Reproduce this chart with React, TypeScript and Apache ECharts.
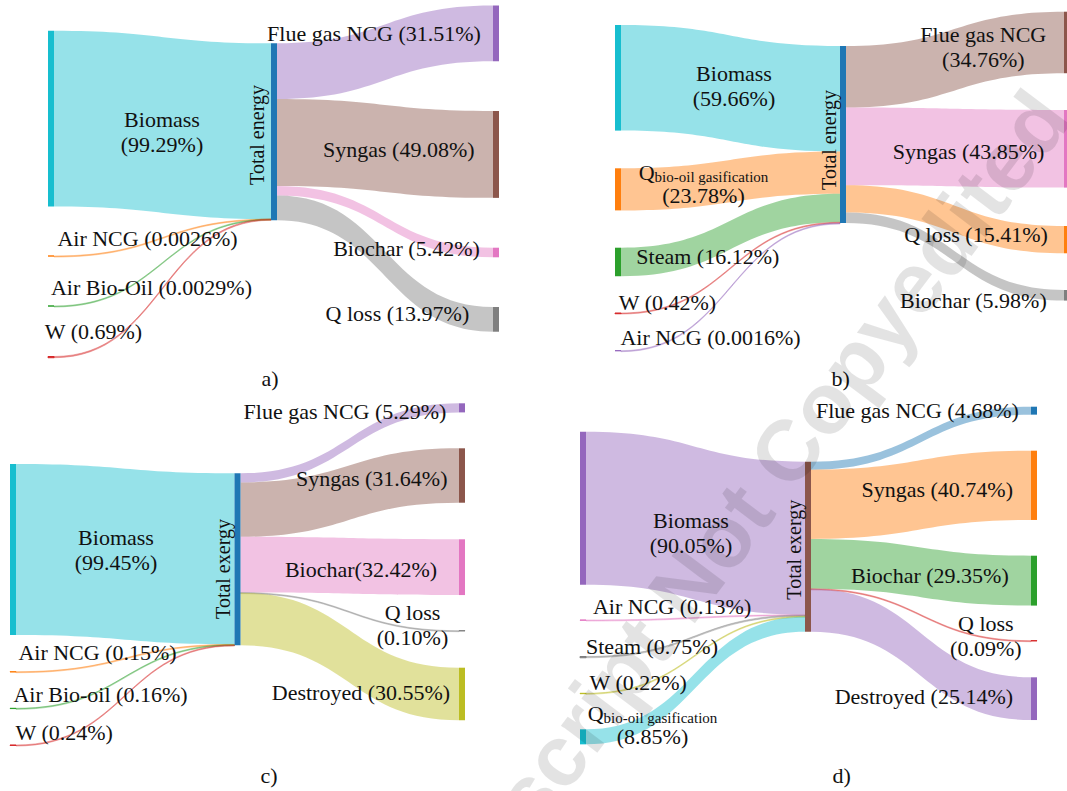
import React, { useEffect, useRef } from "react";
import * as echarts from "echarts";

// ---------------- DATA ----------------
// a) energy, bio-oil combustion case
const aSourceNames = ["Biomass", "Air NCG", "Air Bio-Oil", "W"];
const aSourceValues = [99.29, 0.0026, 0.0029, 0.69];
const aSinkNames = ["Flue gas NCG", "Syngas", "Biochar", "Q loss"];
const aSinkValues = [31.51, 49.08, 5.42, 13.97];

// b) energy, bio-oil gasification case
const bSourceNames = ["Biomass", "Q_bio-oil gasification", "Steam", "W", "Air NCG"];
const bSourceValues = [59.66, 23.78, 16.12, 0.42, 0.0016];
const bSinkNames = ["Flue gas NCG", "Syngas", "Q loss", "Biochar"];
const bSinkValues = [34.76, 43.85, 15.41, 5.98];

// c) exergy, bio-oil combustion case
const cSourceNames = ["Biomass", "Air NCG", "Air Bio-oil", "W"];
const cSourceValues = [99.45, 0.15, 0.16, 0.24];
const cSinkNames = ["Flue gas NCG", "Syngas", "Biochar", "Q loss", "Destroyed"];
const cSinkValues = [5.29, 31.64, 32.42, 0.1, 30.55];

// d) exergy, bio-oil gasification case
const dSourceNames = ["Biomass", "Air NCG", "Steam", "W", "Q_bio-oil gasification"];
const dSourceValues = [90.05, 0.13, 0.75, 0.22, 8.85];
const dSinkNames = ["Flue gas NCG", "Syngas", "Biochar", "Q loss", "Destroyed"];
const dSinkValues = [4.68, 40.74, 29.35, 0.09, 25.14];

const totalNames = ["Total energy", "Total energy", "Total exergy", "Total exergy"];
const panelTags = ["a)", "b)", "c)", "d)"];
const watermarkText = "Manuscript Not Copyedited";

// ---------------- STYLE / LAYOUT ----------------
const COL = {
  blue: "#1f77b4",
  orange: "#ff7f0e",
  green: "#2ca02c",
  red: "#d62728",
  purple: "#9467bd",
  brown: "#8c564b",
  pink: "#e377c2",
  gray: "#7f7f7f",
  olive: "#bcbd22",
  cyan: "#17becf",
};
const FONT = "Liberation Serif";
const TEXT_COLOR = "#111";
const FS = 22;
const NW = 6;
const LINK_OPACITY = 0.45;

const panels = [
  { src: aSourceNames, srcV: aSourceValues, sink: aSinkNames, sinkV: aSinkValues },
  { src: bSourceNames, srcV: bSourceValues, sink: bSinkNames, sinkV: bSinkValues },
  { src: cSourceNames, srcV: cSourceValues, sink: cSinkNames, sinkV: cSinkValues },
  { src: dSourceNames, srcV: dSourceValues, sink: dSinkNames, sinkV: dSinkValues },
];

type Lab = [number, number, string];
interface Layout {
  ky: number;
  x: number[];
  srcY: number[];
  totY: number;
  sinkY: number[];
  srcColors: string[];
  totColor: string;
  sinkColors: string[];
  srcLabels: Lab[];
  totLabel: [number, number];
  sinkLabels: Lab[];
  tag: [number, number];
}

const layouts: Layout[] = [
  {
    ky: 1.77,
    x: [48, 271, 493],
    srcY: [30.7, 256, 306, 356.5],
    totY: 43.3,
    sinkY: [5.5, 111, 247.7, 307],
    srcColors: [COL.cyan, COL.orange, COL.green, COL.red],
    totColor: COL.blue,
    sinkColors: [COL.purple, COL.brown, COL.pink, COL.gray],
    srcLabels: [
      [162, 132, "\n"],
      [148, 239.3, " "],
      [152, 288.3, " "],
      [94, 331.7, " "],
    ],
    totLabel: [257, 135],
    sinkLabels: [
      [374, 33.3, " "],
      [398.8, 149, " "],
      [406.5, 248.3, " "],
      [397.4, 313.3, " "],
    ],
    tag: [270, 378],
  },
  {
    ky: 1.77,
    x: [615, 840, 1064],
    srcY: [25, 168.3, 247.7, 313, 350.7],
    totY: 46,
    sinkY: [11.7, 110, 226, 290],
    srcColors: [COL.cyan, COL.orange, COL.green, COL.red, COL.purple],
    totColor: COL.blue,
    sinkColors: [COL.brown, COL.pink, COL.orange, COL.gray],
    srcLabels: [
      [734, 86, "\n"],
      [703.5, 183, ""],
      [707.8, 256, " "],
      [668, 302.7, " "],
      [711, 337.7, " "],
    ],
    totLabel: [828.6, 140],
    sinkLabels: [
      [983.3, 46.7, "\n"],
      [968.6, 151.7, " "],
      [976, 234.3, " "],
      [973.4, 300, " "],
    ],
    tag: [840.6, 378],
  },
  {
    ky: 1.72,
    x: [10, 234.5, 459],
    srcY: [464, 671.7, 708.3, 745],
    totY: 473.3,
    sinkY: [403.3, 448.3, 539.3, 630.7, 667.7],
    srcColors: [COL.cyan, COL.orange, COL.green, COL.red],
    totColor: COL.blue,
    sinkColors: [COL.purple, COL.brown, COL.pink, COL.gray, COL.olive],
    srcLabels: [
      [116, 549.5, "\n"],
      [98, 653.3, " "],
      [101, 695, " "],
      [64.7, 733.3, " "],
    ],
    totLabel: [223.4, 569],
    sinkLabels: [
      [345, 411.7, " "],
      [371.7, 478.3, " "],
      [361, 569, ""],
      [413, 625.8, "\n"],
      [361, 692.7, " "],
    ],
    tag: [269, 775],
  },
  {
    ky: 1.7,
    x: [580, 805, 1031],
    srcY: [431.7, 620, 656.5, 693.3, 729.3],
    totY: 461.7,
    sinkY: [406.7, 450.7, 555.7, 640.7, 677.3],
    srcColors: [COL.purple, COL.pink, COL.gray, COL.olive, COL.cyan],
    totColor: COL.brown,
    sinkColors: [COL.blue, COL.orange, COL.green, COL.red, COL.purple],
    srcLabels: [
      [691, 532.8, "\n"],
      [672.6, 607.3, " "],
      [652.5, 646.7, " "],
      [638.7, 682.7, " "],
      [652.5, 724.5, ""],
    ],
    totLabel: [793.7, 549.7],
    sinkLabels: [
      [917.4, 410.7, " "],
      [937.2, 489.3, " "],
      [929.9, 575, " "],
      [986.3, 636.7, "\n"],
      [923.9, 696, " "],
    ],
    tag: [841.7, 775],
  },
];

function fmtVal(v: number) {
  return v < 0.01 ? v.toFixed(4) : v.toFixed(2);
}

function labelText(name: string, v: number, sep: string) {
  const val = "(" + fmtVal(v) + "%)";
  if (name.indexOf("_") >= 0) {
    const parts = name.split("_");
    return "{q|" + parts[0] + "}{s|" + parts[1] + "}\n{p|" + val + "}";
  }
  return name + sep + val;
}

const RICH = {
  q: { fontFamily: FONT, color: TEXT_COLOR, fontSize: FS, lineHeight: 24, align: "center" },
  s: {
    fontFamily: FONT,
    color: TEXT_COLOR,
    fontSize: 15,
    lineHeight: 15,
    verticalAlign: "bottom",
    align: "center",
  },
  p: { fontFamily: FONT, color: TEXT_COLOR, fontSize: FS, lineHeight: 22, align: "center" },
};

function buildSeries(idx: number) {
  const P = panels[idx];
  const L = layouts[idx];
  const tot = totalNames[idx];
  const sumIn = P.srcV.reduce((a, b) => a + b, 0);
  const sumOut = P.sinkV.reduce((a, b) => a + b, 0);
  const height = L.ky * Math.max(sumIn, sumOut);
  const left = L.x[0];
  const width = L.x[2] + NW - left;

  const mkNode = (
    name: string,
    value: number,
    color: string,
    x: number,
    y: number,
    cx: number,
    cy: number,
    text: string,
    rotate: number
  ) => ({
    name,
    localX: (x - left) / width,
    localY: y / height,
    itemStyle: {
      color,
      borderColor: color,
      borderWidth: value < 1 ? 1 : 0,
      opacity: 1,
    },
    label: {
      show: true,
      position: [cx - x, cy - y],
      align: "center",
      verticalAlign: "middle",
      rotate,
      fontFamily: FONT,
      fontWeight: "normal",
      color: TEXT_COLOR,
      fontSize: rotate ? 20 : FS,
      lineHeight: 25,
      rich: RICH,
      formatter: () => text,
    },
  });

  const nodes: any[] = [];
  P.src.forEach((n, i) => {
    const lab = L.srcLabels[i];
    nodes.push(
      mkNode(n, P.srcV[i], L.srcColors[i], L.x[0], L.srcY[i], lab[0], lab[1], labelText(n, P.srcV[i], lab[2]), 0)
    );
  });
  nodes.push(mkNode(tot, 100, L.totColor, L.x[1], L.totY, L.totLabel[0], L.totLabel[1], tot, 90));
  P.sink.forEach((n, i) => {
    const lab = L.sinkLabels[i];
    nodes.push(
      mkNode(n, P.sinkV[i], L.sinkColors[i], L.x[2], L.sinkY[i], lab[0], lab[1], labelText(n, P.sinkV[i], lab[2]), 0)
    );
  });

  const lineStyle = (c: string, v: number) => ({
    color: c,
    opacity: LINK_OPACITY,
    curveness: 0.5,
    borderColor: c,
    borderWidth: v < 1 ? 0.8 : 0,
  });

  const links: any[] = [];
  P.src.forEach((n, i) => {
    links.push({ source: n, target: tot, value: P.srcV[i], lineStyle: lineStyle(L.srcColors[i], P.srcV[i]) });
  });
  P.sink.forEach((n, i) => {
    links.push({ source: tot, target: n, value: P.sinkV[i], lineStyle: lineStyle(L.sinkColors[i], P.sinkV[i]) });
  });

  return {
    type: "sankey",
    left,
    top: 0,
    width,
    height,
    nodeWidth: NW,
    nodeGap: 0,
    layoutIterations: 0,
    nodeAlign: "justify",
    draggable: false,
    silent: true,
    emphasis: { disabled: true },
    label: {
      fontFamily: FONT,
      color: TEXT_COLOR,
      fontSize: FS,
      lineHeight: 25,
      rich: RICH,
    },
    data: nodes,
    links,
  };
}

function buildOption() {
  const graphics: any[] = layouts.map((L, i) => ({
    type: "text",
    x: L.tag[0],
    y: L.tag[1],
    silent: true,
    style: {
      text: panelTags[i],
      fontFamily: FONT,
      fontSize: FS,
      fill: TEXT_COLOR,
      align: "center",
      verticalAlign: "middle",
    },
  }));
  graphics.push({
    type: "text",
    x: 1050,
    y: 102,
    rotation: (53 * Math.PI) / 180,
    z: 100,
    silent: true,
    style: {
      text: watermarkText,
      fontFamily: "Liberation Sans",
      fontWeight: "bold",
      fontSize: 86,
      fill: "rgba(0,0,0,0.11)",
      align: "right",
      verticalAlign: "middle",
    },
  });
  return {
    animation: false,
    backgroundColor: "#ffffff",
    series: [0, 1, 2, 3].map(buildSeries),
    graphic: { elements: graphics },
  };
}

export default function App() {
  const ref = useRef<HTMLDivElement>(null);
  useEffect(() => {
    if (!ref.current) return;
    const chart = echarts.init(ref.current, null, { renderer: "svg" });
    chart.setOption(buildOption() as any);
    return () => chart.dispose();
  }, []);
  return (
    <div
      ref={ref}
      style={{ position: "fixed", left: 0, top: 0, width: 1067, height: 791, background: "#fff" }}
    />
  );
}
